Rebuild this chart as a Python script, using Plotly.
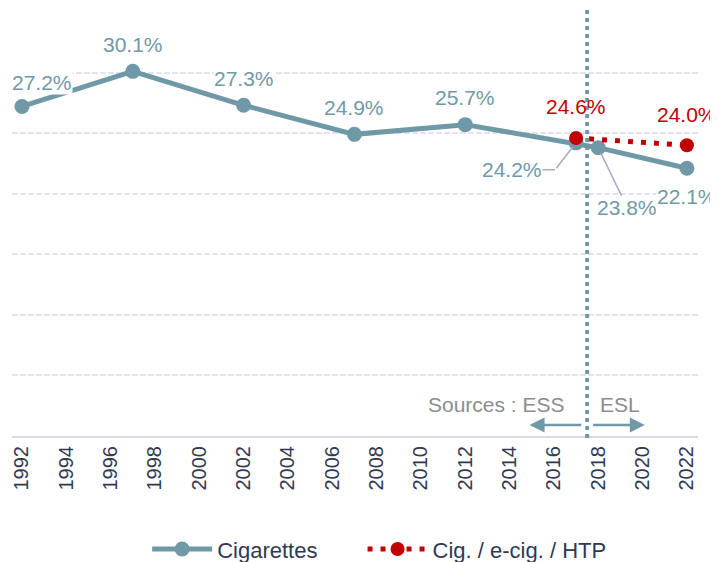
import plotly.graph_objects as go

years_cig = [1992, 1997, 2002, 2007, 2012, 2017, 2018, 2022]
cig_vals = [27.2, 30.1, 27.3, 24.9, 25.7, 24.2, 23.8, 22.1]
all_years = [2017, 2022]
all_pts = [24.6, 24.0]
tick_years = list(range(1992, 2023, 2))

TEAL = "#7099a8"
RED = "#c00000"
LEADER = "#a9a9c6"
FONT = "Liberation Sans, Arial, sans-serif"

fig = go.Figure()
fig.add_trace(go.Scatter(
    x=years_cig, y=cig_vals, name="Cigarettes", mode="lines+markers",
    line=dict(color=TEAL, width=5), marker=dict(color=TEAL, size=15), legend="legend",
))
fig.add_trace(go.Scatter(
    x=all_years, y=all_pts, name="Cig. / e-cig. / HTP", mode="lines+markers",
    line=dict(color=RED, width=5, dash="5px,8px"), marker=dict(color=RED, size=14),
    legend="legend2",
))

# labels: (year, value, xshift, yshift)
label_specs = [
    (1992, 27.2, 20, 24), (1997, 30.1, 0, 27), (2002, 27.3, 0, 27),
    (2007, 24.9, 0, 27), (2012, 25.7, 0, 27), (2022, 22.1, 0, -28),
]
for yr, v, dx, dy in label_specs:
    fig.add_annotation(x=yr, y=v, text=f"{v:.1f}%", showarrow=False, xshift=dx, yshift=dy,
                       font=dict(size=21, color=TEAL, family=FONT), bgcolor="white", borderpad=0)

# leader-line label 24.2% (bent leader: diagonal + horizontal)
fig.add_annotation(x=years_cig[5], y=cig_vals[5], text="", showarrow=True,
                   ax=-21, ay=27, arrowhead=0, arrowcolor=LEADER, arrowwidth=1.5, standoff=6)
fig.add_annotation(x=years_cig[5], y=cig_vals[5], xshift=-21, yshift=-27,
                   text=f"{cig_vals[5]:.1f}%", showarrow=True,
                   ax=-43, ay=0, arrowhead=0, arrowcolor=LEADER, arrowwidth=1.5, standoff=0,
                   font=dict(size=21, color=TEAL, family=FONT), bgcolor="white", borderpad=0)
fig.add_annotation(x=years_cig[6], y=cig_vals[6], text=f"{cig_vals[6]:.1f}%", showarrow=True,
                   ax=29, ay=60, arrowhead=0, arrowcolor=LEADER, arrowwidth=1.5, standoff=6,
                   font=dict(size=21, color=TEAL, family=FONT), bgcolor="white", borderpad=0)

for yr, v in zip(all_years, all_pts):
    fig.add_annotation(x=yr, y=v, text=f"{v:.1f}%", showarrow=False, yshift=31,
                       font=dict(size=21, color=RED, family=FONT))

# separator
fig.add_shape(type="line", xref="x", yref="paper", x0=2017.5, x1=2017.5, y0=-0.005, y1=1.03,
              line=dict(color=TEAL, width=4, dash="4px,4px"))

# sources
fig.add_annotation(x=2016.6, y=2.6, text="Sources : ESS", xanchor="right", showarrow=False,
                   font=dict(size=21, color="#8c8c8c", family=FONT))
fig.add_annotation(x=2018.0, y=2.6, text="ESL", xanchor="left", showarrow=False,
                   font=dict(size=21, color="#8c8c8c", family=FONT))
fig.add_annotation(x=2014.9, y=0.9, ax=2017.3, ay=0.9, axref="x", ayref="y", text="",
                   showarrow=True, arrowhead=2, arrowsize=1.2, arrowwidth=2.5, arrowcolor=TEAL)
fig.add_annotation(x=2020.1, y=0.9, ax=2017.7, ay=0.9, axref="x", ayref="y", text="",
                   showarrow=True, arrowhead=2, arrowsize=1.2, arrowwidth=2.5, arrowcolor=TEAL)

legend_common = dict(orientation="h", xanchor="left", y=-0.267, yanchor="middle",
                     font=dict(size=22, color="#2f3a52", family=FONT), itemwidth=60,
                     bgcolor="rgba(0,0,0,0)")
fig.update_layout(
    width=710, height=554, plot_bgcolor="white", paper_bgcolor="white",
    margin=dict(l=4, r=20, t=4, b=126, autoexpand=False),
    font=dict(family=FONT, color="#2f3a52"),
    showlegend=True,
    legend=dict(x=0.197, **legend_common),
    legend2=dict(x=0.511, **legend_common),
    xaxis=dict(range=[1991.55, 2022.5], tickmode="array", tickvals=tick_years,
               ticktext=[str(t) for t in tick_years], tickangle=-90, automargin=False,
               tickfont=dict(size=20, color="#2f3a52"), showgrid=False, zeroline=False,
               showline=True, linecolor="#d9d9ea", linewidth=2, ticks=""),
    yaxis=dict(range=[0, 35], tickvals=[5, 10, 15, 20, 25, 30, 35], showticklabels=False,
               showgrid=True, gridcolor="#e3e3f1", griddash="6px,2px", gridwidth=1.5,
               zeroline=False, showline=False, automargin=False),
)
fig.write_html("out.html")
